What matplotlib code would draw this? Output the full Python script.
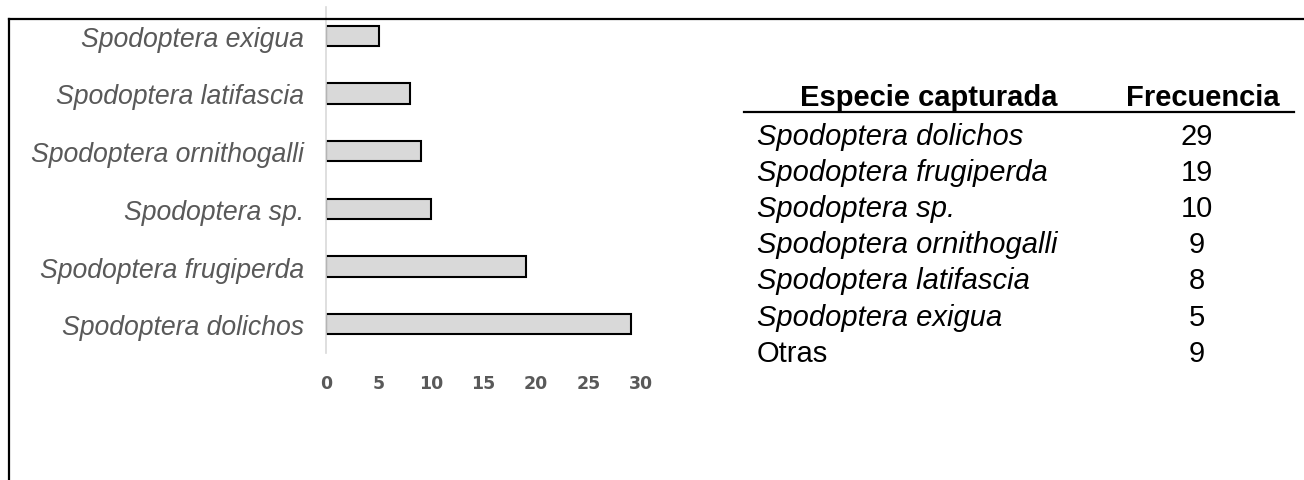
import matplotlib.pyplot as plt
from matplotlib.lines import Line2D

especies = ['Spodoptera dolichos', 'Spodoptera frugiperda', 'Spodoptera sp.',
            'Spodoptera ornithogalli', 'Spodoptera latifascia', 'Spodoptera exigua']
frecuencia = [29, 19, 10, 9, 8, 5]
tabla_especies = especies + ['Otras']
tabla_frecuencia = frecuencia + [9]
xticks = [0, 5, 10, 15, 20, 25, 30]

W, H = 1304, 481
fig = plt.figure(figsize=(W / 100, H / 100), dpi=100)

# bar chart on the left
ax = fig.add_axes([326 / W, (H - 354) / H, (641 - 326) / W, (354 - 8) / H])
ax.barh(range(len(especies)), frecuencia, height=0.35, color='#d9d9d9',
        edgecolor='black', linewidth=1.5)
ax.set_ylim(-0.5, len(especies) - 0.5)
ax.set_xlim(0, 30)
ax.set_yticks(range(len(especies)))
ax.set_yticklabels(especies, fontfamily='Liberation Sans', fontstyle='italic',
                   fontsize=19.2, color='#595959')
ax.set_xticks(xticks)
ax.set_xticklabels([str(t) for t in xticks], fontfamily='DejaVu Sans',
                   fontweight='bold', fontsize=12.5, color='#595959')
ax.tick_params(axis='y', length=0, pad=16)
ax.tick_params(axis='x', length=0, pad=15)
for s in ['top', 'right', 'bottom']:
    ax.spines[s].set_visible(False)
ax.spines['left'].set_color('#d9d9d9')
ax.spines['left'].set_linewidth(1.2)
ax.patch.set_alpha(0)

# outer frame (left and top edges only)
fig.add_artist(Line2D([9 / W, 9 / W], [0, (H - 20) / H], color='black', linewidth=1.6))
fig.add_artist(Line2D([9 / W, 1], [(H - 20) / H, (H - 20) / H], color='black', linewidth=1.6))

# frequency table on the right
def fx(px):
    return px / W

def fy(py):
    return (H - py) / H

fig.text(fx(929), fy(98), 'Especie capturada', fontfamily='Liberation Sans',
         fontweight='bold', fontsize=21, ha='center', va='center')
fig.text(fx(1203), fy(98), 'Frecuencia', fontfamily='Liberation Sans',
         fontweight='bold', fontsize=21, ha='center', va='center')
fig.add_artist(Line2D([fx(744), fx(1294)], [fy(113), fy(113)], color='black', linewidth=1.6))

row_y = 137
for nombre, n in zip(tabla_especies, tabla_frecuencia):
    estilo = 'normal' if nombre == 'Otras' else 'italic'
    fig.text(fx(757), fy(row_y), nombre, fontfamily='Liberation Sans',
             fontstyle=estilo, fontsize=21, ha='left', va='center')
    fig.text(fx(1197), fy(row_y), str(n), fontfamily='Liberation Sans',
             fontsize=21, ha='center', va='center')
    row_y += 36.1

fig.savefig('out.png', dpi=100)
